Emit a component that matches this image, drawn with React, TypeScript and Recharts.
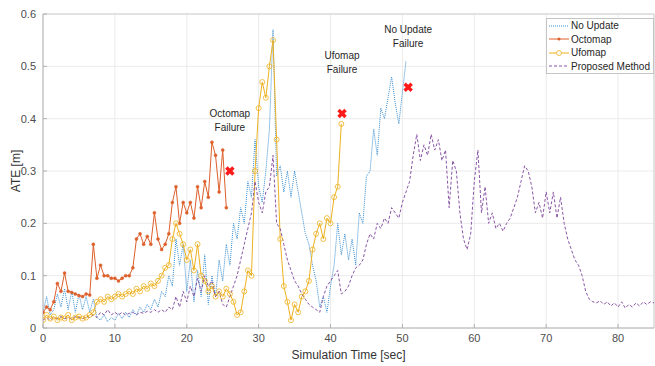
import {
  ComposedChart,
  Line,
  Scatter,
  XAxis,
  YAxis,
  CartesianGrid,
  Legend,
  ReferenceLine,
} from "recharts";

// sample spacing of every series [sec]
const STEP = 0.5;

// ATE [m], one value per STEP, starting at t = 0
const noUpdate = [
  0.03, 0.06, 0.025, 0.035, 0.065, 0.04, 0.075, 0.035, 0.07, 0.03,
  0.065, 0.035, 0.06, 0.03, 0.055, 0.02, 0.015, 0.025, 0.012, 0.02,
  0.015, 0.028, 0.018, 0.03, 0.02, 0.035, 0.025, 0.04, 0.03, 0.045,
  0.035, 0.055, 0.04, 0.07, 0.06, 0.1, 0.08, 0.17, 0.12, 0.16,
  0.07, 0.13, 0.05, 0.11, 0.06, 0.14, 0.045, 0.1, 0.06, 0.13,
  0.09, 0.16, 0.12, 0.2, 0.17, 0.23, 0.2, 0.28, 0.25, 0.36,
  0.27, 0.24, 0.3, 0.38, 0.57, 0.29, 0.31, 0.26, 0.3, 0.25,
  0.3, 0.26, 0.22, 0.18, 0.16, 0.12, 0.09, 0.04, 0.06, 0.03,
  0.08, 0.12, 0.2, 0.14, 0.18, 0.13, 0.17, 0.12, 0.22, 0.2,
  0.29, 0.3, 0.38, 0.33, 0.42, 0.4, 0.44, 0.48, 0.43, 0.39,
  0.45, 0.51,
];

const octomap = [
  0.03, 0.04, 0.035, 0.05, 0.085, 0.07, 0.105, 0.07, 0.068, 0.065,
  0.062, 0.06, 0.065, 0.063, 0.16, 0.095, 0.12, 0.1, 0.1, 0.095,
  0.095, 0.09, 0.095, 0.1, 0.1, 0.115, 0.17, 0.18, 0.16, 0.175,
  0.16, 0.22, 0.17, 0.15, 0.16, 0.18, 0.24, 0.27, 0.2, 0.24,
  0.22, 0.24, 0.21, 0.27, 0.23, 0.28, 0.25, 0.355, 0.33, 0.26,
  0.34, 0.23,
];

const ufomap = [
  0.015, 0.025, 0.018, 0.022, 0.015, 0.02, 0.018, 0.025, 0.015, 0.02,
  0.022, 0.018, 0.02, 0.025, 0.03, 0.05, 0.055, 0.05, 0.06, 0.055,
  0.06, 0.065, 0.06, 0.065, 0.07, 0.065, 0.075, 0.07, 0.08, 0.075,
  0.085, 0.08, 0.09, 0.1, 0.115, 0.12, 0.17, 0.2, 0.18, 0.16,
  0.13, 0.15, 0.11, 0.16, 0.1, 0.09, 0.07, 0.08, 0.06, 0.07,
  0.06, 0.075, 0.065, 0.05, 0.025, 0.03, 0.07, 0.11, 0.1, 0.3,
  0.42, 0.47, 0.44, 0.5, 0.55, 0.36, 0.17, 0.08, 0.05, 0.015,
  0.045, 0.03, 0.06, 0.07, 0.09, 0.15, 0.18, 0.2, 0.17, 0.21,
  0.2, 0.25, 0.27, 0.39,
];

const proposed = [
  0.015, 0.02, 0.015, 0.02, 0.018, 0.022, 0.018, 0.02, 0.017, 0.022,
  0.02, 0.018, 0.022, 0.02, 0.025, 0.02, 0.03, 0.025, 0.035, 0.025,
  0.03, 0.025, 0.03, 0.025, 0.028, 0.03, 0.025, 0.03, 0.028, 0.032,
  0.03, 0.035, 0.03, 0.035, 0.03, 0.04, 0.035, 0.06, 0.04, 0.07,
  0.05, 0.08, 0.06, 0.095, 0.07, 0.1, 0.08, 0.09, 0.06, 0.07,
  0.045, 0.04, 0.06, 0.08, 0.1, 0.13, 0.16, 0.19, 0.22, 0.28,
  0.24, 0.22, 0.26, 0.27, 0.33, 0.2, 0.19, 0.16, 0.13, 0.11,
  0.09, 0.08, 0.065, 0.055, 0.045, 0.04, 0.035, 0.03, 0.06, 0.08,
  0.09, 0.1, 0.11, 0.065, 0.07, 0.08, 0.1, 0.115, 0.12, 0.13,
  0.16, 0.18, 0.17, 0.2, 0.19, 0.21, 0.2, 0.23, 0.22, 0.21,
  0.24, 0.26, 0.28, 0.33, 0.37, 0.32, 0.35, 0.33, 0.37, 0.34,
  0.36, 0.32, 0.34, 0.23, 0.32, 0.3, 0.22, 0.17, 0.15, 0.18,
  0.28, 0.34, 0.22, 0.27, 0.2, 0.22, 0.19, 0.2, 0.185, 0.2,
  0.21, 0.23, 0.25, 0.28, 0.31, 0.3, 0.27, 0.22, 0.24, 0.21,
  0.26, 0.22, 0.26, 0.21, 0.25, 0.2, 0.17, 0.15, 0.13, 0.12,
  0.1, 0.07, 0.055, 0.05, 0.048, 0.052, 0.045, 0.05, 0.042, 0.048,
  0.04, 0.05, 0.038, 0.045, 0.04, 0.048, 0.042, 0.05, 0.045, 0.05,
  0.048,
];

// failure markers
const failureTimes = [26, 41.6, 50.8];
const failureValues = [0.3, 0.41, 0.46];
const failureNames = ["Octomap", "Ufomap", "No Update"];

const xTicks = [0, 10, 20, 30, 40, 50, 60, 70, 80];
const yTicks = [0, 0.1, 0.2, 0.3, 0.4, 0.5, 0.6];

const toPoints = (vals: number[]) => vals.map((v, i) => ({ t: i * STEP, v }));

const failures = failureTimes.map((t, i) => ({
  t,
  v: failureValues[i],
  name: failureNames[i],
}));

const BLUE = "#3a8fd2";
const ORANGE = "#dd5f2a";
const YELLOW = "#edb120";
const PURPLE = "#8a55a6";
const FONT = "'Liberation Sans', Arial, sans-serif";

interface MarkProps {
  cx?: number
  cy?: number
  payload?: { name: string }
}

// red cross plus the two-line "<name> / Failure" note above it
const FailureMark = ({ cx = 0, cy = 0, payload }: MarkProps) => (
  <g>
    <line x1={cx - 3.5} y1={cy - 3.5} x2={cx + 3.5} y2={cy + 3.5} stroke="#ff1a1a" strokeWidth={3.5} />
    <line x1={cx - 3.5} y1={cy + 3.5} x2={cx + 3.5} y2={cy - 3.5} stroke="#ff1a1a" strokeWidth={3.5} />
    <text x={cx} y={cy - 54} textAnchor="middle" fontSize={10} fontFamily={FONT} fill="#262626">
      {payload?.name}
    </text>
    <text x={cx} y={cy - 40} textAnchor="middle" fontSize={10} fontFamily={FONT} fill="#262626">
      Failure
    </text>
  </g>
);

const legendRows = [
  { label: "No Update", color: BLUE, dash: "1 1", mark: "" },
  { label: "Octomap", color: ORANGE, dash: "", mark: "dot" },
  { label: "Ufomap", color: YELLOW, dash: "", mark: "circle" },
  { label: "Proposed Method", color: PURPLE, dash: "3 2", mark: "" },
];

const LegendBox = () => (
  <div
    style={{
      width: 108,
      height: 56,
      boxSizing: "border-box",
      border: "1px solid #c4c4c4",
      background: "#fff",
      fontFamily: FONT,
      fontSize: 10,
      color: "#262626",
    }}
  >
    {legendRows.map((r) => (
      <div key={r.label} style={{ display: "flex", alignItems: "center", height: 13.5, lineHeight: "13.5px" }}>
        <svg width={23} height={10} style={{ marginLeft: 1 }}>
          <line x1={1} y1={5} x2={21} y2={5} stroke={r.color} strokeWidth={1} strokeDasharray={r.dash || undefined} />
          {r.mark === "dot" && <circle cx={11} cy={5} r={1.5} fill={r.color} />}
          {r.mark === "circle" && <circle cx={11} cy={5} r={2.5} fill="#fff" stroke={r.color} strokeWidth={0.8} />}
        </svg>
        <span style={{ whiteSpace: "nowrap" }}>{r.label}</span>
      </div>
    ))}
  </div>
);

const tickStyle = { fontSize: 11, fill: "#4d4d4d", fontFamily: FONT };

export default function App() {
  return (
    <div style={{ position: "relative", width: 655, height: 366, background: "#fff" }}>
      <style>{"body{margin:0}"}</style>
      <ComposedChart width={655} height={366} margin={{ top: 14, right: 1, bottom: 0, left: 0 }}>
        <CartesianGrid stroke="#ebebeb" strokeWidth={1} />
        {/* negative tickSize: MATLAB-style ticks pointing into the plot */}
        <XAxis
          dataKey="t"
          type="number"
          domain={[0, 85]}
          ticks={xTicks}
          allowDataOverflow
          height={38}
          tickSize={-4}
          tickMargin={10}
          tickLine={{ stroke: "#b0b0b0" }}
          axisLine={{ stroke: "#b0b0b0" }}
          tick={tickStyle}
          label={{
            value: "Simulation Time [sec]",
            position: "insideBottom",
            offset: 7,
            style: { fontSize: 12, fill: "#333", fontFamily: FONT },
          }}
        />
        <YAxis
          type="number"
          domain={[0, 0.6]}
          ticks={yTicks}
          allowDataOverflow
          width={43}
          tickSize={-4}
          tickMargin={11}
          tickLine={{ stroke: "#b0b0b0" }}
          axisLine={{ stroke: "#b0b0b0" }}
          tick={tickStyle}
          label={{
            value: "ATE [m]",
            angle: -90,
            position: "insideLeft",
            offset: 16,
            style: { fontSize: 12, fill: "#333", fontFamily: FONT, textAnchor: "middle" },
          }}
        />
        {/* box outline, top and right */}
        <ReferenceLine y={0.6} stroke="#d0d0d0" />
        <ReferenceLine x={85} stroke="#d0d0d0" />

        <Line
          data={toPoints(noUpdate)}
          dataKey="v"
          name="No Update"
          stroke={BLUE}
          strokeWidth={1}
          strokeDasharray="1 1"
          dot={false}
          activeDot={false}
          isAnimationActive={false}
        />
        <Line
          data={toPoints(octomap)}
          dataKey="v"
          name="Octomap"
          stroke={ORANGE}
          strokeWidth={1}
          dot={{ r: 1.5, fill: ORANGE, stroke: ORANGE, strokeWidth: 0.5 }}
          activeDot={false}
          isAnimationActive={false}
        />
        <Line
          data={toPoints(ufomap)}
          dataKey="v"
          name="Ufomap"
          stroke={YELLOW}
          strokeWidth={1}
          dot={{ r: 2.5, fill: "none", stroke: YELLOW, strokeWidth: 0.8 }}
          activeDot={false}
          isAnimationActive={false}
        />
        <Line
          data={toPoints(proposed)}
          dataKey="v"
          name="Proposed Method"
          stroke={PURPLE}
          strokeWidth={1}
          strokeDasharray="3 2"
          dot={false}
          activeDot={false}
          isAnimationActive={false}
        />
        <Scatter
          data={failures}
          dataKey="v"
          shape={(p: MarkProps) => <FailureMark {...p} />}
          isAnimationActive={false}
        />
        <Legend
          layout="horizontal"
          verticalAlign="middle"
          align="center"
          content={<LegendBox />}
          wrapperStyle={{ top: 18, left: 546, width: 108, height: 56 }}
        />
      </ComposedChart>
    </div>
  );
}
